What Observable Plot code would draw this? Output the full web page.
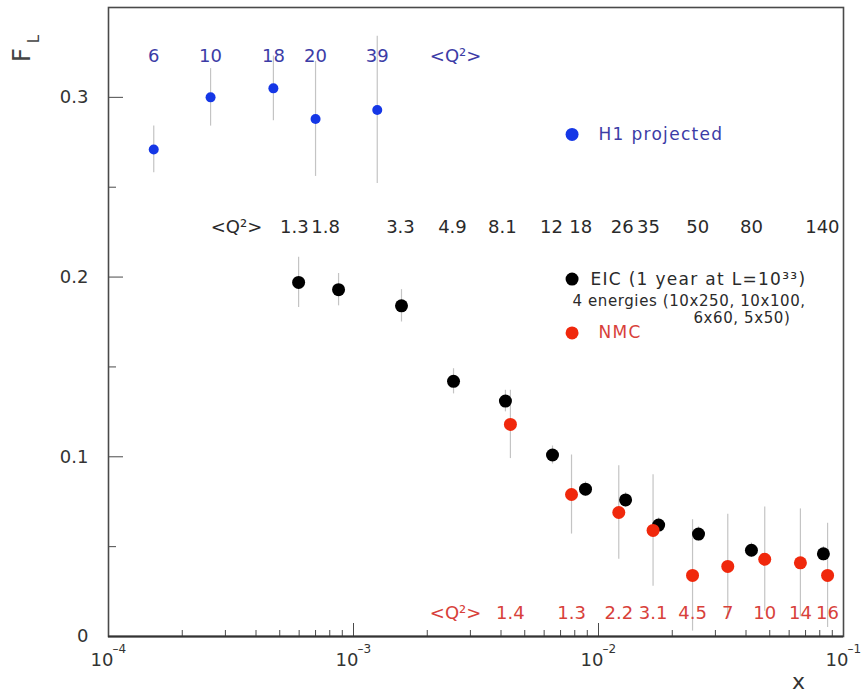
<!DOCTYPE html>
<html><head><meta charset="utf-8">
<script src="https://cdn.jsdelivr.net/npm/d3@7"></script>
<script src="https://cdn.jsdelivr.net/npm/@observablehq/plot@0.6"></script>
<style>
body{margin:0;background:#fff;}
#chart svg{display:block;}
</style>
</head><body><div id="chart"></div>
<script>
// ---- H1 projected ----
const h1X   = [1.53e-4, 2.61e-4, 4.71e-4, 7.0e-4, 1.25e-3];
const h1F   = [0.271, 0.300, 0.305, 0.288, 0.293];
const h1Err = [0.013, 0.016, 0.018, 0.032, 0.041];
const h1Q2  = ["6", "10", "18", "20", "39"];

// ---- EIC (1 year at L=10^33) ----
const eicX   = [5.97e-4, 8.69e-4, 1.57e-3, 2.56e-3, 4.17e-3, 6.49e-3, 8.85e-3, 1.29e-2, 1.76e-2, 2.56e-2, 4.21e-2, 8.28e-2];
const eicF   = [0.197, 0.193, 0.184, 0.142, 0.131, 0.101, 0.082, 0.076, 0.062, 0.057, 0.048, 0.046];
const eicErr = [0.014, 0.009, 0.009, 0.007, 0.006, 0.005, 0.004, 0.004, 0.004, 0.004, 0.004, 0.004];
const eicQ2  = ["1.3", "1.8", "3.3", "4.9", "8.1", "12", "18", "26", "35", "50", "80", "140"];
const eicQ2X = [5.74e-4, 7.69e-4, 1.555e-3, 2.535e-3, 4.05e-3, 6.43e-3, 8.46e-3, 1.25e-2, 1.60e-2, 2.54e-2, 4.21e-2, 8.20e-2];

// ---- NMC ----
const nmcX   = [4.37e-3, 7.76e-3, 1.21e-2, 1.67e-2, 2.42e-2, 3.37e-2, 4.77e-2, 6.67e-2, 8.61e-2];
const nmcF   = [0.118, 0.079, 0.069, 0.059, 0.034, 0.039, 0.043, 0.041, 0.034];
const nmcErr = [0.019, 0.022, 0.026, 0.031, 0.031, 0.029, 0.029, 0.030, 0.029];
const nmcQ2  = ["1.4", "1.3", "2.2", "3.1", "4.5", "7", "10", "14", "16"];

// ---- <Q2> row annotations (anchor x, y in data units) ----
const q2Tag = "<Q²>";
const h1RowY = 0.323, eicRowY = 0.228, nmcRowY = 0.0128;
const h1TagX = 2.61e-3, eicTagX = 3.33e-4, nmcTagX = 2.61e-3;

// ---- legend (in data units) ----
const legendNames  = ["H1 projected", "EIC (1 year at L=10³³)", "NMC"];
const legendY      = [0.2794, 0.1989, 0.1689];
const legendDotX   = 7.8e-3;
const legendTextX  = [1.0e-2, 9.27e-3, 1.0e-2];
const eicNoteLines = ["4 energies (10x250, 10x100,", "6x60, 5x50)"];
const eicNoteX     = [7.83e-3, 2.44e-2];
const eicNoteY     = [0.1867, 0.1772];

// ---- axes ----
const xMajor = [1e-4, 1e-3, 1e-2, 1e-1];
const xExp   = ["–4", "–3", "–2", "–1"];
const xMinor = [2e-4,3e-4,4e-4,5e-4,6e-4,7e-4,8e-4,9e-4,
                2e-3,3e-3,4e-3,5e-3,6e-3,7e-3,8e-3,9e-3,
                2e-2,3e-2,4e-2,5e-2,6e-2,7e-2,8e-2,9e-2];
const yMajor = [0, 0.1, 0.2, 0.3];
const yLabels = ["0", "0.1", "0.2", "0.3"];
const yMinor = [0.05, 0.15, 0.25];
const yTitle = "F", yTitleSub = "L", xTitle = "x";

const colors = {
  h1Dot: "#1537e6", h1Text: "#3c3ca6",
  eicDot: "#000000", eicText: "#2a2a2a",
  nmcDot: "#f0280c", nmcText: "#d8413a",
  err: "#c4c4c4", axis: "#4a4a4a"
};

const W = 862, H = 695, mL = 108, mR = 19, mT = 7, mB = 59;
const plotW = W - mL - mR, plotH = H - mT - mB;

const ih1 = d3.range(h1X.length), ieic = d3.range(eicX.length), inmc = d3.range(nmcX.length);
const ix = d3.range(xMajor.length), iy = d3.range(yMajor.length);
const il = d3.range(legendNames.length), inote = d3.range(eicNoteLines.length);

const legendColors = [colors.h1Dot, colors.eicDot, colors.nmcDot];
const legendTextColors = [colors.h1Text, colors.eicText, colors.nmcText];

const chart = Plot.plot({
  width: W, height: H,
  marginLeft: mL, marginRight: mR, marginTop: mT, marginBottom: mB,
  x: {type: "log", domain: [1e-4, 1e-1], axis: null},
  y: {domain: [0, 0.35], axis: null},
  style: {fontFamily: "DejaVu Sans, sans-serif", background: "#fff"},
  marks: [
    // ticks (inward)
    Plot.ruleX(xMinor, {x: d => d, insetTop: plotH - 6, stroke: colors.axis, strokeWidth: 1}),
    Plot.ruleX(xMajor, {x: d => d, insetTop: plotH - 13, stroke: colors.axis, strokeWidth: 1}),
    Plot.ruleY(yMinor, {y: d => d, insetRight: plotW - 8, stroke: colors.axis, strokeWidth: 1}),
    Plot.ruleY(yMajor, {y: d => d, insetRight: plotW - 15, stroke: colors.axis, strokeWidth: 1}),
    Plot.frame({stroke: colors.axis, strokeWidth: 1.6}),
    Plot.ruleY([0], {stroke: "#333", strokeWidth: 2}),

    // tick labels
    Plot.text(ix, {x: i => xMajor[i], y: () => 0, text: () => "10", textAnchor: "end", dx: 5, dy: 24, fontSize: 18, fill: "#333"}),
    Plot.text(ix, {x: i => xMajor[i], y: () => 0, text: i => xExp[i], textAnchor: "start", dx: 4, dy: 13, fontSize: 12, fill: "#333"}),
    Plot.text(iy, {x: () => 1e-4, y: i => yMajor[i], text: i => yLabels[i], textAnchor: "end", dx: -20, fontSize: 18, fill: "#333"}),

    // x axis title
    Plot.text([xTitle], {frameAnchor: "bottom-right", dx: -45, dy: 45, fontSize: 22, textAnchor: "middle", lineAnchor: "middle", fill: "#333"}),

    // error bars
    Plot.ruleX(ih1, {x: i => h1X[i], y1: i => h1F[i] - h1Err[i], y2: i => h1F[i] + h1Err[i], stroke: colors.err, strokeWidth: 1.2}),
    Plot.ruleX(inmc, {x: i => nmcX[i], y1: i => nmcF[i] - nmcErr[i], y2: i => nmcF[i] + nmcErr[i], stroke: colors.err, strokeWidth: 1.2}),
    Plot.ruleX(ieic, {x: i => eicX[i], y1: i => eicF[i] - eicErr[i], y2: i => eicF[i] + eicErr[i], stroke: colors.err, strokeWidth: 1.2}),

    // points
    Plot.dot(ih1, {x: i => h1X[i], y: i => h1F[i], r: 5, fill: colors.h1Dot, stroke: null}),
    Plot.dot(ieic, {x: i => eicX[i], y: i => eicF[i], r: 6.5, fill: colors.eicDot, stroke: null}),
    Plot.dot(inmc, {x: i => nmcX[i], y: i => nmcF[i], r: 6.5, fill: colors.nmcDot, stroke: null}),

    // <Q2> rows
    Plot.text(ih1, {x: i => h1X[i], y: () => h1RowY, text: i => h1Q2[i], fontSize: 18, fill: colors.h1Text}),
    Plot.text([q2Tag], {x: () => h1TagX, y: () => h1RowY, text: d => d, fontSize: 18, fill: colors.h1Text}),
    Plot.text(ieic, {x: i => eicQ2X[i], y: () => eicRowY, text: i => eicQ2[i], fontSize: 18, fill: colors.eicText}),
    Plot.text([q2Tag], {x: () => eicTagX, y: () => eicRowY, text: d => d, fontSize: 18, fill: colors.eicText}),
    Plot.text(inmc, {x: i => nmcX[i], y: () => nmcRowY, text: i => nmcQ2[i], fontSize: 18, fill: colors.nmcText}),
    Plot.text([q2Tag], {x: () => nmcTagX, y: () => nmcRowY, text: d => d, fontSize: 18, fill: colors.nmcText}),

    // legend
    Plot.dot(il, {x: () => legendDotX, y: i => legendY[i], r: 6.5, fill: i => legendColors[i], stroke: null}),
    Plot.text(il, {x: i => legendTextX[i], y: i => legendY[i], text: i => legendNames[i], textAnchor: "start", fontSize: 17, fill: i => legendTextColors[i]}),
    Plot.text(inote, {x: i => eicNoteX[i], y: i => eicNoteY[i], text: i => eicNoteLines[i], textAnchor: "start", fontSize: 15, fill: colors.eicText})
  ]
});

document.getElementById("chart").appendChild(chart);

const svg = d3.select(chart);
// wider letter spacing for legend texts (as in the reference)
svg.selectAll("text")
  .filter(function() { return legendNames.includes(this.textContent); })
  .attr("letter-spacing", "1.3px");
svg.selectAll("text")
  .filter(function() { return eicNoteLines.includes(this.textContent); })
  .attr("letter-spacing", "0.6px");

// y axis title F_L, rotated to read bottom-to-top (ROOT style, top-left of the frame)
const yTitleG = svg.append("g")
  .attr("font-family", "DejaVu Sans, sans-serif")
  .attr("fill", "#444")
  .attr("text-anchor", "middle");
yTitleG.append("text")
  .attr("transform", `translate(${mL - 86},${mT + 48}) rotate(-90)`)
  .attr("dy", "0.35em")
  .attr("font-size", 24)
  .text(yTitle);
yTitleG.append("text")
  .attr("transform", `translate(${mL - 74},${mT + 32}) rotate(-90)`)
  .attr("dy", "0.35em")
  .attr("font-size", 15)
  .text(yTitleSub);
</script>
</body></html>
